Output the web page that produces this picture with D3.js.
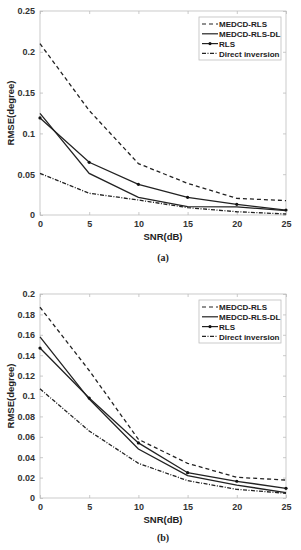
<!DOCTYPE html>
<html><head><meta charset="utf-8">
<script src="https://cdn.jsdelivr.net/npm/d3@7"></script>
<style>body{margin:0;background:#fff}svg{display:block}</style>
</head><body>
<script>
const snr = [0, 5, 10, 15, 20, 25];
const seriesNames = ["MEDCD-RLS", "MEDCD-RLS-DL", "RLS", "Direct inversion"];
// Panel (a)
const a_medcdRls   = [0.210, 0.128, 0.063, 0.0388, 0.0204, 0.0176];
const a_medcdRlsDl = [0.1246, 0.051, 0.0217, 0.0102, 0.0100, 0.0053];
const a_rls        = [0.119, 0.0646, 0.0376, 0.0217, 0.0131, 0.0061];
const a_direct     = [0.051, 0.0266, 0.0184, 0.0090, 0.0040, 0.0012];
const a_yTicks = [0, 0.05, 0.1, 0.15, 0.2, 0.25];
// Panel (b)
const b_medcdRls   = [0.187, 0.125, 0.0575, 0.034, 0.0203, 0.0176];
const b_medcdRlsDl = [0.158, 0.097, 0.048, 0.022, 0.0127, 0.0052];
const b_rls        = [0.147, 0.098, 0.054, 0.0248, 0.0164, 0.0095];
const b_direct     = [0.107, 0.0657, 0.034, 0.017, 0.0085, 0.0046];
const b_yTicks = [0, 0.02, 0.04, 0.06, 0.08, 0.1, 0.12, 0.14, 0.16, 0.18, 0.2];
const xTicks = [0, 5, 10, 15, 20, 25];

const svg = d3.select("body").append("svg").attr("width", 301).attr("height", 550);
const font = "'Liberation Sans', Arial, sans-serif";
const styles = [
  {dash: "4,3", marker: false},
  {dash: null, marker: false},
  {dash: null, marker: true},
  {dash: "4,1.5,1,1.5", marker: false}
];

function panel(top, bottom, yMax, yTicks, fmt, data, caption, capY) {
  const left = 40, right = 286;
  const x = d3.scaleLinear().domain([0, 25]).range([left, right]);
  const y = d3.scaleLinear().domain([0, yMax]).range([bottom, top]);
  const g = svg.append("g");
  g.append("rect").attr("x", left).attr("y", top).attr("width", right-left).attr("height", bottom-top)
    .attr("fill", "none").attr("stroke", "#bdbdbd").attr("stroke-width", 0.8);
  const ax = g.append("g").attr("transform", `translate(0,${bottom})`)
    .call(d3.axisBottom(x).tickValues(xTicks).tickSize(-3).tickPadding(6).tickFormat(d3.format("d")));
  const axT = g.append("g").attr("transform", `translate(0,${top})`)
    .call(d3.axisTop(x).tickValues(xTicks).tickSize(-3).tickFormat(""));
  const ay = g.append("g").attr("transform", `translate(${left},0)`)
    .call(d3.axisLeft(y).tickValues(yTicks).tickSize(-3).tickPadding(5).tickFormat(fmt));
  const ayR = g.append("g").attr("transform", `translate(${right},0)`)
    .call(d3.axisRight(y).tickValues(yTicks).tickSize(-3).tickFormat(""));
  [ax, axT, ay, ayR].forEach(a => {
    a.select(".domain").remove();
    a.selectAll(".tick line").attr("stroke", "#bdbdbd").attr("stroke-width", 0.8);
    a.selectAll("text").attr("font-family", font).attr("font-weight", "bold")
      .attr("font-size", 9).attr("fill", "#333");
  });
  g.append("text").attr("x", (left+right)/2).attr("y", bottom+25).attr("text-anchor", "middle")
    .attr("font-family", font).attr("font-weight", "bold").attr("font-size", 9.5).attr("fill", "#222").text("SNR(dB)");
  g.append("text").attr("transform", `translate(14,${(top+bottom)/2}) rotate(-90)`).attr("text-anchor", "middle")
    .attr("font-family", font).attr("font-weight", "bold").attr("font-size", 9.5).attr("fill", "#222").text("RMSE(degree)");
  g.append("text").attr("x", (left+right)/2).attr("y", capY).attr("text-anchor", "middle")
    .attr("font-family", "'Liberation Serif', 'DejaVu Serif', serif").attr("font-weight", "bold")
    .attr("font-size", 10).attr("fill", "#222").text(caption);
  const line = d3.line().x((d,i) => x(snr[i])).y(d => y(d));
  data.forEach((vals, k) => {
    const st = styles[k];
    g.append("path").datum(vals).attr("d", line).attr("fill", "none").attr("stroke", "#222")
      .attr("stroke-width", 1.3).attr("stroke-dasharray", st.dash);
    if (st.marker) {
      g.selectAll(null).data(vals).join("circle").attr("cx", (d,i) => x(snr[i])).attr("cy", d => y(d))
        .attr("r", 1.6).attr("fill", "#111");
    }
  });
  const lx = 199, ly = top + 6, lw = 82, lh = 43;
  const lg = g.append("g");
  lg.append("rect").attr("x", lx).attr("y", ly).attr("width", lw).attr("height", lh)
    .attr("fill", "#fff").attr("stroke", "#bdbdbd").attr("stroke-width", 0.8);
  seriesNames.forEach((name, k) => {
    const yy = ly + 7 + k * 9.8;
    const st = styles[k];
    lg.append("line").attr("x1", lx + 3).attr("x2", lx + 19).attr("y1", yy).attr("y2", yy)
      .attr("stroke", "#222").attr("stroke-width", 1.2).attr("stroke-dasharray", st.dash);
    if (st.marker) lg.append("circle").attr("cx", lx + 11).attr("cy", yy).attr("r", 1.6).attr("fill", "#111");
    lg.append("text").attr("x", lx + 20).attr("y", yy + 3.2).attr("font-family", font).attr("font-weight", "bold")
      .attr("font-size", 8).attr("fill", "#222").text(name);
  });
}

panel(11, 215, 0.25, a_yTicks, d3.format(""), [a_medcdRls, a_medcdRlsDl, a_rls, a_direct], "(a)", 261);
panel(294, 498, 0.2, b_yTicks, d3.format(""), [b_medcdRls, b_medcdRlsDl, b_rls, b_direct], "(b)", 541);
</script>
</body></html>
